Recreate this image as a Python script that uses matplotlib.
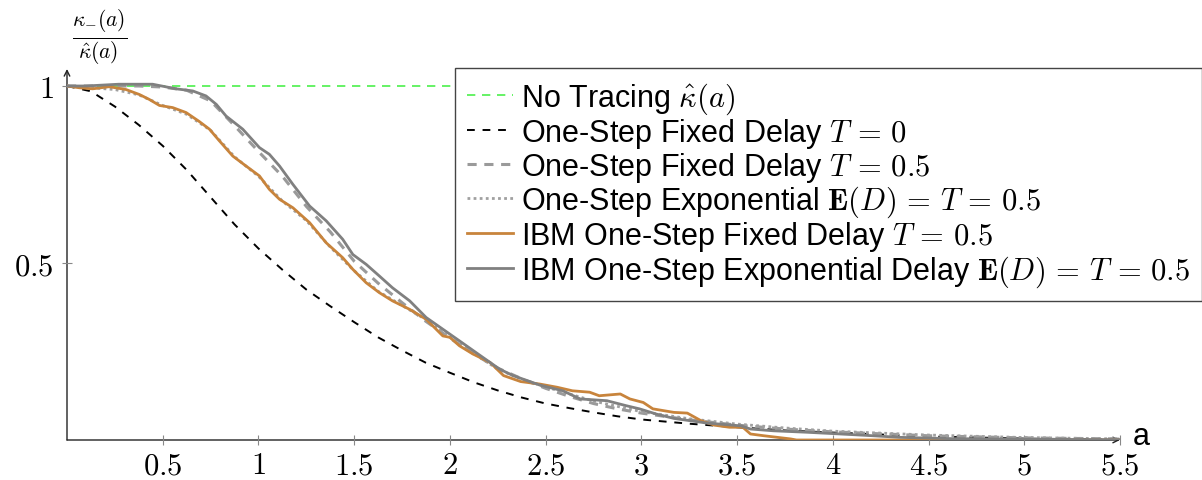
import matplotlib
matplotlib.use("Agg")
import matplotlib.pyplot as plt
from matplotlib.ticker import FixedLocator, FixedFormatter

plt.rcParams['font.family'] = ['Liberation Sans', 'DejaVu Sans']
plt.rcParams['mathtext.fontset'] = 'cm'

# --- data -------------------------------------------------------------
# analytic curves sampled on a common grid of ages a
a_grid = [0.0, 0.125, 0.25, 0.375, 0.5, 0.625, 0.75, 0.875, 1.0, 1.125, 1.25,
          1.375, 1.5, 1.625, 1.75, 1.875, 2.0, 2.125, 2.25, 2.375, 2.5, 2.625,
          2.75, 2.875, 3.0, 3.25, 3.5, 3.75, 4.0, 4.5, 5.0, 5.5]

no_tracing = [1.0] * len(a_grid)

fixed_T0 = [1.0, 0.985, 0.942, 0.89, 0.831, 0.763, 0.686, 0.609, 0.541, 0.481,
            0.425, 0.378, 0.333, 0.29, 0.253, 0.218, 0.19, 0.163, 0.14, 0.12,
            0.103, 0.09, 0.078, 0.067, 0.058, 0.046, 0.036, 0.027, 0.021,
            0.01, 0.004, 0.001]

fixed_T05 = [1.0, 1.0, 1.0, 1.0, 0.997, 0.988, 0.958, 0.888, 0.815, 0.745,
             0.66, 0.588, 0.505, 0.443, 0.388, 0.335, 0.288, 0.243, 0.203,
             0.173, 0.146, 0.123, 0.103, 0.088, 0.076, 0.057, 0.042, 0.031,
             0.023, 0.012, 0.006, 0.003]

expo_T05 = [1.0, 0.995, 0.99, 0.975, 0.945, 0.92, 0.875, 0.8, 0.745, 0.675,
            0.62, 0.545, 0.478, 0.42, 0.38, 0.34, 0.29, 0.245, 0.2, 0.172,
            0.15, 0.13, 0.11, 0.095, 0.08, 0.06, 0.045, 0.034, 0.025, 0.014,
            0.007, 0.003]

# individual-based model runs (noisy estimates)
ibm_fixed_a = [0.0, 0.064, 0.134, 0.22, 0.308, 0.378, 0.43, 0.483, 0.552, 0.622,
               0.69, 0.744, 0.796, 0.866, 0.935, 1.005, 1.057, 1.11, 1.18,
               1.267, 1.354, 1.44, 1.493, 1.563, 1.632, 1.70, 1.79, 1.876,
               1.963, 2.0, 2.05, 2.12, 2.21, 2.28, 2.37, 2.47, 2.56, 2.64,
               2.73, 2.78, 2.89, 2.94, 3.01, 3.06, 3.17, 3.24, 3.31, 3.38,
               3.46, 3.53, 3.57, 3.64, 3.78, 3.81, 4.5, 5.5]
ibm_fixed_k = [1.0, 0.995, 0.992, 0.998, 0.99, 0.976, 0.962, 0.945, 0.939,
               0.925, 0.90, 0.878, 0.845, 0.802, 0.774, 0.746, 0.708, 0.68,
               0.656, 0.614, 0.557, 0.515, 0.482, 0.444, 0.416, 0.393, 0.369,
               0.341, 0.294, 0.29, 0.266, 0.243, 0.219, 0.182, 0.165, 0.158,
               0.149, 0.139, 0.135, 0.125, 0.13, 0.116, 0.106, 0.088, 0.078,
               0.076, 0.055, 0.042, 0.036, 0.036, 0.017, 0.012, 0.003, 0.0,
               0.0, 0.0]

ibm_expo_a = [0.0, 0.1, 0.27, 0.447, 0.57, 0.657, 0.726, 0.78, 0.831, 0.918,
              1.005, 1.057, 1.11, 1.18, 1.267, 1.354, 1.44, 1.493, 1.563,
              1.632, 1.70, 1.79, 1.876, 1.963, 2.05, 2.16, 2.26, 2.33, 2.47,
              2.59, 2.68, 2.82, 2.92, 2.99, 3.08, 3.17, 3.34, 3.52, 3.57, 3.69,
              3.86, 4.04, 4.21, 4.35, 4.6, 5.0, 5.5]
ibm_expo_k = [1.0, 1.0, 1.005, 1.005, 0.992, 0.986, 0.972, 0.948, 0.915, 0.878,
              0.826, 0.807, 0.774, 0.722, 0.661, 0.619, 0.567, 0.524, 0.496,
              0.463, 0.43, 0.393, 0.346, 0.313, 0.28, 0.238, 0.2, 0.182, 0.155,
              0.139, 0.116, 0.111, 0.097, 0.088, 0.073, 0.061, 0.048, 0.040,
              0.031, 0.026, 0.022, 0.017, 0.012, 0.0075, 0.004, 0.002, 0.001]

x_ticks = [0.5, 1, 1.5, 2, 2.5, 3, 3.5, 4, 4.5, 5, 5.5]
x_tick_labels = ['$0.5$', '$1$', '$1.5$', '$2$', '$2.5$', '$3$', '$3.5$',
                 '$4$', '$4.5$', '$5$', '$5.5$']
y_ticks = [0.5, 1]
y_tick_labels = ['$0.5$', '$1$']

labels = [r'No Tracing $\hat{\kappa}(a)$',
          r'One-Step Fixed Delay $T \,=\, 0$',
          r'One-Step Fixed Delay $T \,=\, 0.5$',
          r'One-Step Exponential $\mathbf{E}(D) \,=\, T \,=\, 0.5$',
          r'IBM One-Step Fixed Delay $T \,=\, 0.5$',
          r'IBM One-Step Exponential Delay $\mathbf{E}(D) \,=\, T \,=\, 0.5$']

# --- figure -----------------------------------------------------------
W, H = 1202, 481
fig = plt.figure(figsize=(W / 100, H / 100), dpi=100)
x0, x1 = 67, 1120
y0, y1 = 441, 70
ax = fig.add_axes([x0 / W, 1 - y0 / H, (x1 - x0) / W, (y0 - y1) / H])
ax.set_xlim(0, 5.5)
ax.set_ylim(0, 1.048)

ax.plot(a_grid, no_tracing, color='#4cf04c', lw=1.2, ls=(0, (5, 4)),
        label=labels[0])
ax.plot(a_grid, fixed_T0, color='black', lw=1.4, ls=(0, (4, 4)),
        label=labels[1])
ax.plot(a_grid, fixed_T05, color='#9a9a9a', lw=2.2, ls=(0, (3, 2.5)),
        label=labels[2])
ax.plot(a_grid, expo_T05, color='#a0a0a0', lw=2.0, ls=(0, (1, 1.2)),
        label=labels[3])
ax.plot(ibm_fixed_a, ibm_fixed_k, color='#c8843c', lw=2.0, label=labels[4])
ax.plot(ibm_expo_a, ibm_expo_k, color='#808080', lw=2.0, label=labels[5])

for s in ax.spines.values():
    s.set_visible(False)

# axis lines with arrow tips
ax.annotate('', xy=(1, 0), xytext=(0, 0), xycoords='axes fraction',
            arrowprops=dict(arrowstyle='->', lw=1.0, color='#222222',
                            shrinkA=0, shrinkB=0), zorder=0)
ax.annotate('', xy=(0, 1), xytext=(0, 0), xycoords='axes fraction',
            arrowprops=dict(arrowstyle='->', lw=1.0, color='#222222',
                            shrinkA=0, shrinkB=0), zorder=0)

ax.xaxis.set_major_locator(FixedLocator(x_ticks))
ax.xaxis.set_major_formatter(FixedFormatter(x_tick_labels))
ax.yaxis.set_major_locator(FixedLocator(y_ticks))
ax.yaxis.set_major_formatter(FixedFormatter(y_tick_labels))
ax.tick_params(axis='both', direction='inout', length=7, width=0.8,
               color='#888888', labelsize=22)
ax.tick_params(axis='x', pad=4)
ax.tick_params(axis='y', pad=6)

fig.text(1133 / W, 1 - 437 / H, 'a', fontsize=22, ha='left', va='center')
fig.text(100 / W, 1 - 37 / H, r'$\frac{\kappa_{-}(a)}{\hat{\kappa}(a)}$',
         fontsize=22, ha='center', va='center')

leg = ax.legend(loc='upper left', bbox_to_anchor=(455 / W, 1 - 69 / H),
                bbox_transform=fig.transFigure, fontsize=22, frameon=True,
                fancybox=False, framealpha=1, edgecolor='#444444',
                handlelength=1.5, handletextpad=0.25, labelspacing=0.0,
                borderpad=0.4, borderaxespad=0)
leg.get_frame().set_linewidth(1.0)

fig.savefig('out.png', dpi=100)
